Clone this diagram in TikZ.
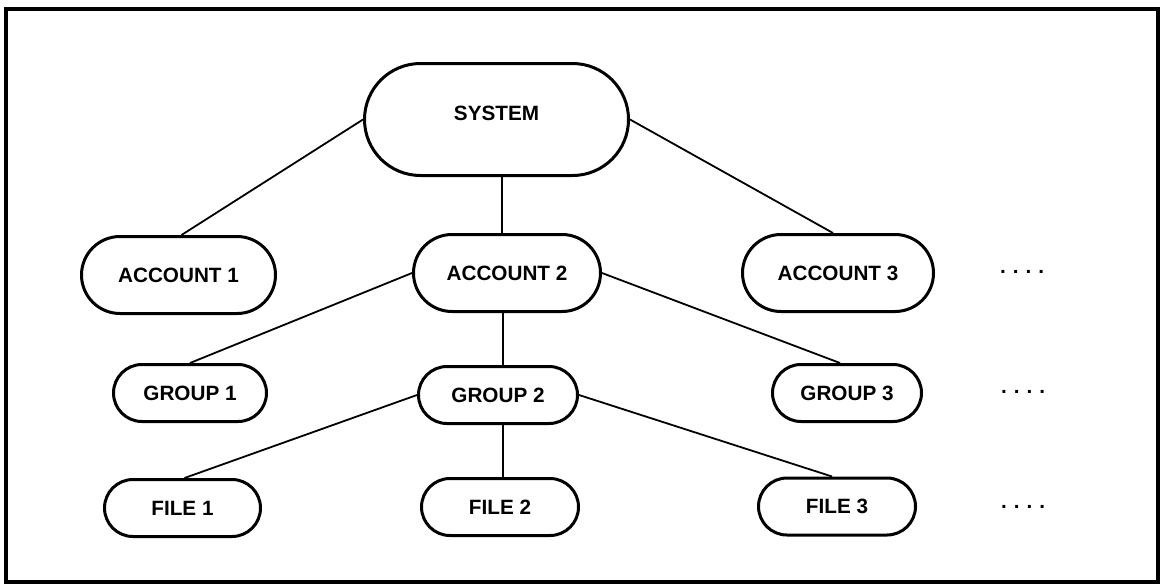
\documentclass[tikz,border=0pt]{standalone}
\usepackage{fontspec}
\setmainfont{Liberation Sans}
\begin{document}
\begin{tikzpicture}[x=1pt,y=-1pt,
  label font/.style={font=\bfseries\fontsize{20.7}{24}\selectfont},
  pill/.style={draw, line width=3pt, label font, inner sep=0pt,
    text height=14.8pt, text depth=0pt},
  bigpill/.style={pill, minimum height=112pt, rounded corners=56pt},
  midpill/.style={pill, minimum height=77pt, rounded corners=38.5pt},
  smallpill/.style={pill, minimum height=57pt, rounded corners=28.5pt},
  link/.style={line width=1.8pt},
  more/.style={label font, inner sep=0pt}]
\useasboundingbox (0,0) rectangle (1161,584);
% outer frame
\draw[line width=3.5pt] (6,9) rectangle (1158,582);

% hierarchy levels
\node[bigpill, minimum width=264pt, text height=14.8pt, text depth=12.8pt] (sys) at (496.5,119.5) {SYSTEM};

\node[midpill, minimum width=194pt] (acc1) at (178.5,275) {ACCOUNT 1};
\node[midpill, minimum width=187pt] (acc2) at (507,273) {ACCOUNT 2};
\node[midpill, minimum width=191pt] (acc3) at (838,273) {ACCOUNT 3};

\node[smallpill, minimum width=153pt] (grp1) at (190,393) {GROUP 1};
\node[smallpill, minimum width=159pt] (grp2) at (498,395) {GROUP 2};
\node[smallpill, minimum width=149pt] (grp3) at (847,393) {GROUP 3};

\node[smallpill, minimum width=156pt] (file1) at (182.5,508) {FILE 1};
\node[smallpill, minimum width=157pt] (file2) at (500,507) {FILE 2};
\node[smallpill, minimum width=157pt] (file3) at (837,506.5) {FILE 3};

% continuation marks
\node[more] (more1) at (1022,272) {.\hspace{7pt}.\hspace{7pt}.\hspace{7pt}.};
\node[more] (more2) at (1023,392) {.\hspace{7pt}.\hspace{7pt}.\hspace{7pt}.};
\node[more] (more3) at (1023,507) {.\hspace{7pt}.\hspace{7pt}.\hspace{7pt}.};

% connectors
\draw[link] (sys.west) -- ([xshift=3pt]acc1.north);
\draw[link] (sys.east) -- ([xshift=-5pt]acc3.north);
\draw[link] ([xshift=5.5pt]sys.south) -- ([xshift=-5pt]acc2.north);

\draw[link] (acc2.west) -- (grp1.north);
\draw[link] (acc2.east) -- ([xshift=-7pt]grp3.north);
\draw[link] ([xshift=-4pt]acc2.south) -- ([xshift=5pt]grp2.north);

\draw[link] (grp2.west) -- ([xshift=2pt]file1.north);
\draw[link] (grp2.east) -- ([xshift=-5pt]file3.north);
\draw[link] ([xshift=5pt]grp2.south) -- ([xshift=3pt]file2.north);
\end{tikzpicture}
\end{document}
